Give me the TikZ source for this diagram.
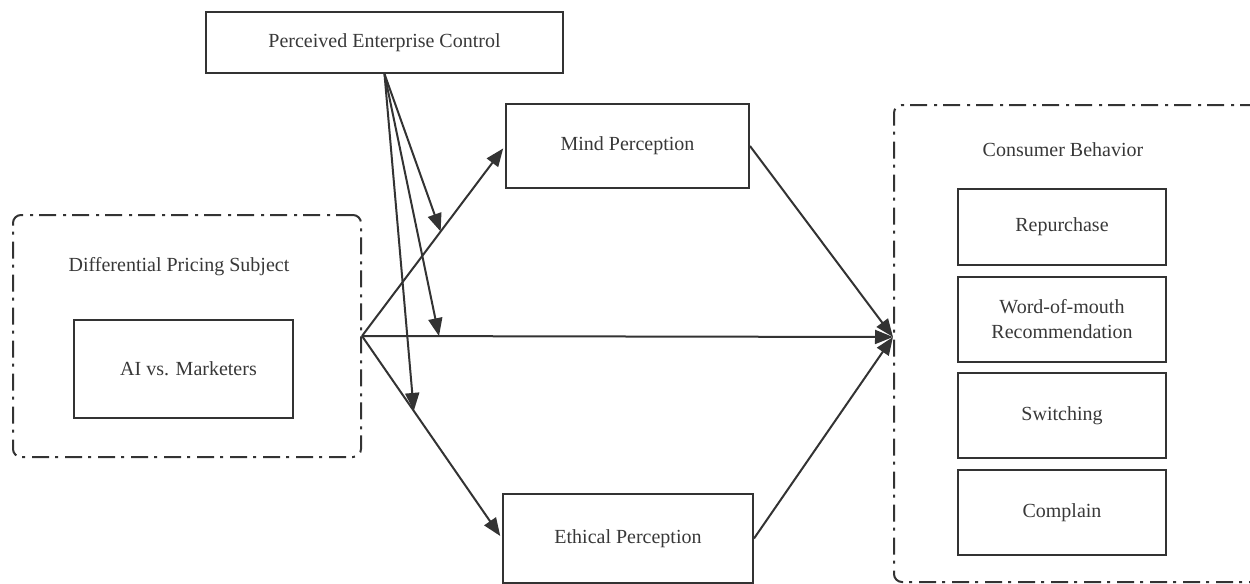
\documentclass[tikz,border=0pt]{standalone}
\usepackage{fontspec}
\setmainfont{Liberation Serif}
\usetikzlibrary{arrows.meta,calc}
\definecolor{ink}{HTML}{333333}
\definecolor{txt}{HTML}{383838}
\begin{document}
\begin{tikzpicture}[x=0.5pt,y=-0.5pt,
  lbl/.style={text=txt, font=\fontsize{10}{12.5}\selectfont, inner sep=0pt, align=center},
  box/.style={lbl, draw=ink, line width=1pt, rectangle},
  group/.style={draw=ink, line width=1pt, rounded corners=4pt, rectangle,
    dash pattern=on 8.5pt off 3pt on 1.5pt off 3.5pt, inner sep=0pt},
  arr/.style={draw=ink, line width=1pt, -{Triangle[length=9pt,width=7pt]}},
]
\useasboundingbox (0,0) rectangle (1250,584);

% groups
\node[group, minimum width=174pt, minimum height=121pt] (dps) at (187,336) {};
\node[lbl] (dpsl) at (179,267) {Differential Pricing Subject};
\node[box, minimum width=109.5pt, minimum height=49pt] (ai) at (183.5,369) {\hspace*{5pt}AI vs. Marketers};

\begin{scope}
\clip (0,0) rectangle (1250,584);
\node[group, minimum width=185.5pt, minimum height=238.5pt] (cb) at (1079.5,343.5) {};
\end{scope}
\node[lbl] (cbl) at (1063,150) {Consumer Behavior};
\node[box, minimum width=104pt, minimum height=38pt] (rep) at (1062,227) {Repurchase};
\node[box, minimum width=104pt, minimum height=42.5pt] (wom) at (1062,319.5) {Word-of-mouth\\Recommendation};
\node[box, minimum width=104pt, minimum height=42.5pt] (sw) at (1062,415.5) {Switching};
\node[box, minimum width=104pt, minimum height=42.5pt] (comp) at (1062,512.5) {Complain};

% main nodes
\node[box, minimum width=178.5pt, minimum height=30.5pt] (pec) at (384.5,42.5) {Perceived Enterprise Control};
\node[box, minimum width=121.5pt, minimum height=42pt] (mind) at (627.5,146) {Mind Perception};
\node[box, minimum width=125pt, minimum height=44.5pt] (eth) at (628,538.5) {Ethical Perception};

\coordinate (tgt) at (893,337);

% paths
\draw[arr, shorten >=1.5pt] (dps.east) -- (mind.west);
\draw[arr, shorten >=1.5pt] (dps.east) -- (eth.west);
\draw[arr] (dps.east) -- (tgt);
\draw[arr] (mind.east) -- (tgt);
\draw[arr] (eth.east) -- (tgt);

% moderation fan
\coordinate (m1) at ($(dps.east)!0.55!(mind.west)$);
\coordinate (m2) at ($(dps.east)!0.145!(tgt)$);
\coordinate (m3) at ($(dps.east)!0.37!(eth.west)$);
\draw[arr] (pec.south) -- (m1);
\draw[arr] (pec.south) -- (m2);
\draw[arr] (pec.south) -- (m3);
\end{tikzpicture}
\end{document}
